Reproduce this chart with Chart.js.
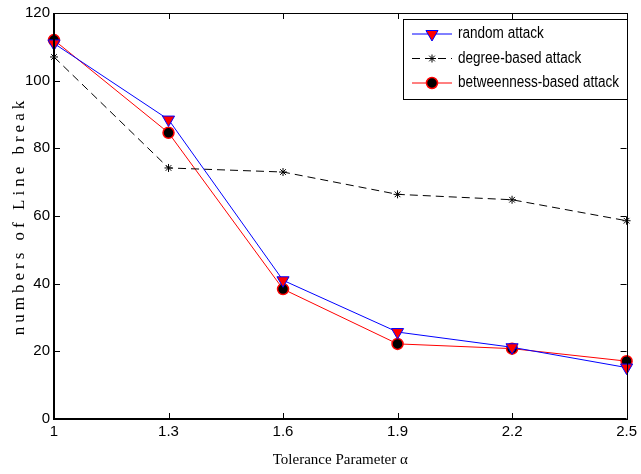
<!DOCTYPE html>
<html>
<head>
<meta charset="utf-8">
<script src="https://cdn.jsdelivr.net/npm/chart.js@4"></script>
<style>
  html, body { margin: 0; padding: 0; background: #fff; }
  #box { width: 641px; height: 474px; }
</style>
</head>
<body>
<div id="box"><canvas id="grafico" width="641" height="474"></canvas></div>
<script>
// --- dados ---
const alfas = [1, 1.3, 1.6, 1.9, 2.2, 2.5];
const ataqueAleatorio = [111, 88.5, 41, 25.7, 21.2, 15.2];
const ataqueGrau = [107, 74.2, 73, 66.4, 64.8, 58.6];
const ataqueIntermediacao = [112, 84.6, 38.4, 22.2, 20.8, 17.1];
const ticksY = [0, 20, 40, 60, 80, 100, 120];
const nomes = ['random attack', 'degree-based attack', 'betweenness-based attack'];

const fonteNarrow = '"Liberation Sans Narrow", "Arial Narrow", "Liberation Sans", sans-serif';
const fonteLegenda = '"Liberation Sans", Arial, sans-serif';
const fonteSerif = '"Liberation Serif", "Times New Roman", serif';

function pontos(valores) {
  return alfas.map((a, i) => ({ x: a, y: valores[i] }));
}

// moldura, ticks internos, titulos e legenda estilo matlab
const estiloMatlab = {
  id: 'estiloMatlab',
  afterDraw(chart) {
    const ctx = chart.ctx;
    const a = chart.chartArea;
    const sx = chart.scales.x, sy = chart.scales.y;
    ctx.save();
    ctx.strokeStyle = '#000';
    ctx.lineWidth = 1;
    // ticks para dentro
    sx.ticks.forEach(t => {
      const px = Math.round(sx.getPixelForValue(t.value)) + 0.5;
      ctx.beginPath();
      ctx.moveTo(px, a.bottom); ctx.lineTo(px, a.bottom - 6);
      ctx.moveTo(px, a.top); ctx.lineTo(px, a.top + 6);
      ctx.stroke();
    });
    sy.ticks.forEach(t => {
      const py = Math.round(sy.getPixelForValue(t.value)) + 0.5;
      ctx.beginPath();
      ctx.moveTo(a.left, py); ctx.lineTo(a.left + 6, py);
      ctx.moveTo(a.right, py); ctx.lineTo(a.right - 6, py);
      ctx.stroke();
    });
    // moldura
    ctx.strokeRect(Math.round(a.left) + 0.5, Math.round(a.top) + 0.5,
      Math.round(a.right - a.left), Math.round(a.bottom - a.top));
    ctx.lineWidth = 2;
    ctx.beginPath();
    ctx.moveTo(a.left, a.top); ctx.lineTo(a.left, a.bottom); ctx.lineTo(a.right, a.bottom);
    ctx.stroke();

    // titulo eixo y (espaçado)
    ctx.fillStyle = '#000';
    ctx.font = '17px ' + fonteSerif;
    ctx.letterSpacing = '4px';
    ctx.textAlign = 'center';
    ctx.textBaseline = 'middle';
    ctx.translate(20, (a.top + a.bottom) / 2);
    ctx.rotate(-Math.PI / 2);
    ctx.fillText('numbers of Line break', 0, 0);
    ctx.restore();

    ctx.save();
    ctx.fillStyle = '#000';
    ctx.font = '15px ' + fonteSerif;
    ctx.textAlign = 'center';
    ctx.textBaseline = 'middle';
    ctx.fillText('Tolerance Parameter \u03b1', (a.left + a.right) / 2, 460);

    // legenda
    const lx = 403, ly = 19, lw = 224, lh = 80;
    ctx.fillStyle = '#fff';
    ctx.fillRect(lx, ly, lw, lh);
    ctx.strokeStyle = '#000';
    ctx.lineWidth = 1;
    ctx.strokeRect(lx + 0.5, ly + 0.5, lw, lh);
    ctx.font = '16px ' + fonteLegenda;
    const larguraMax = Math.max(...chart.data.datasets.map(d => ctx.measureText(d.label).width));
    const escala = Math.min(1, 161 / larguraMax);
    chart.data.datasets.forEach((ds, i) => {
      const cy = ly + 15 + i * 24.5;
      ctx.strokeStyle = ds.borderColor;
      ctx.lineWidth = 1;
      ctx.setLineDash(ds.borderDash || []);
      ctx.beginPath();
      ctx.moveTo(lx + 9, cy); ctx.lineTo(lx + 49, cy);
      ctx.stroke();
      ctx.setLineDash([]);
      ctx.fillStyle = ds.pointBackgroundColor;
      ctx.strokeStyle = ds.pointBorderColor;
      ctx.lineWidth = ds.pointBorderWidth;
      Chart.helpers.drawPoint(ctx, {
        pointStyle: ds.pointStyle,
        rotation: ds.pointRotation || 0,
        radius: ds.pointRadius,
        borderWidth: ds.pointBorderWidth
      }, lx + 29, cy);
      ctx.save();
      ctx.fillStyle = '#000';
      ctx.textAlign = 'left';
      ctx.translate(lx + 55, cy);
      ctx.scale(escala, 1);
      ctx.fillText(ds.label, 0, 0);
      ctx.restore();
    });
    ctx.restore();
  }
};

new Chart(document.getElementById('grafico').getContext('2d'), {
  type: 'line',
  data: {
    datasets: [
      {
        label: nomes[0], data: pontos(ataqueAleatorio),
        borderColor: '#0000ff', borderWidth: 1,
        pointStyle: 'triangle', pointRotation: 180, pointRadius: 7,
        pointBackgroundColor: '#ff0000', pointBorderColor: '#0000ff', pointBorderWidth: 1
      },
      {
        label: nomes[1], data: pontos(ataqueGrau),
        borderColor: '#000000', borderWidth: 1, borderDash: [8, 5],
        pointStyle: 'star', pointRadius: 4,
        pointBackgroundColor: '#000', pointBorderColor: '#000', pointBorderWidth: 1
      },
      {
        label: nomes[2], data: pontos(ataqueIntermediacao),
        borderColor: '#ff0000', borderWidth: 1,
        pointStyle: 'circle', pointRadius: 5.5,
        pointBackgroundColor: '#000000', pointBorderColor: '#ff0000', pointBorderWidth: 1.5
      }
    ]
  },
  options: {
    responsive: false,
    animation: false,
    clip: false,
    layout: { padding: { top: 10, right: 10, left: 0, bottom: 0 } },
    plugins: { legend: { display: false }, tooltip: { enabled: false } },
    scales: {
      x: {
        type: 'linear', min: 1, max: 2.5,
        afterBuildTicks: s => { s.ticks = alfas.map(v => ({ value: v })); },
        afterFit: s => { s.height = 55; },
        grid: { display: false, drawTicks: false },
        border: { display: false },
        ticks: {
          color: '#000', padding: 4, maxRotation: 0, autoSkip: false,
          font: { family: fonteNarrow, size: 15 },
          callback: v => String(v)
        }
      },
      y: {
        min: 0, max: 120,
        afterBuildTicks: s => { s.ticks = ticksY.map(v => ({ value: v })); },
        afterFit: s => { s.width = 54; },
        grid: { display: false, drawTicks: false },
        border: { display: false },
        ticks: {
          color: '#000', padding: 4,
          font: { family: fonteNarrow, size: 15 }
        }
      }
    }
  },
  plugins: [estiloMatlab]
});
</script>
</body>
</html>
